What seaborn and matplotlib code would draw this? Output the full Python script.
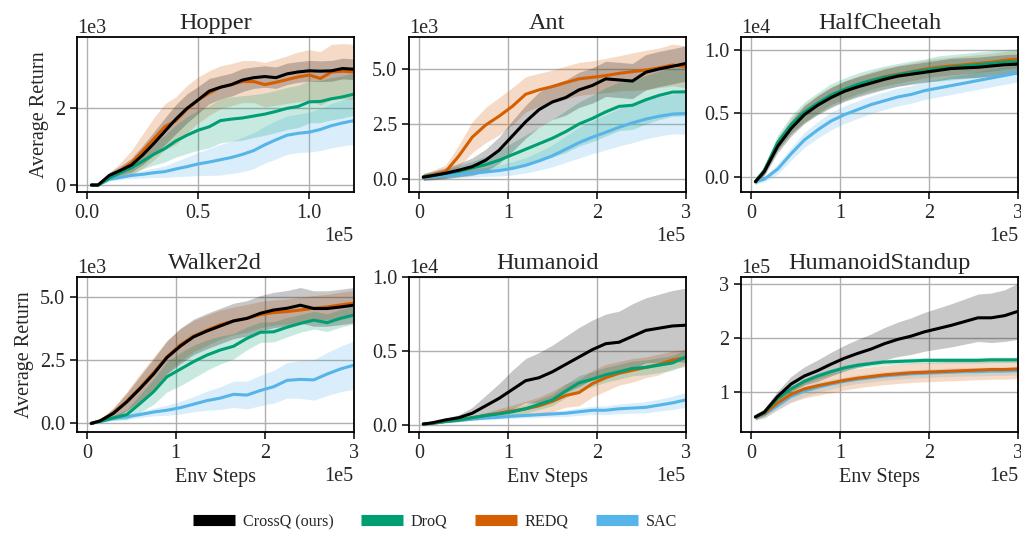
import numpy as np
import pandas as pd
import matplotlib
matplotlib.use("Agg")
import matplotlib.pyplot as plt
from matplotlib.lines import Line2D
from matplotlib.ticker import MultipleLocator
import seaborn as sns

# ---- data, x in env steps ----
STEPS_HOP = np.array([0.02, 0.05, 0.10, 0.15, 0.20, 0.25, 0.30, 0.35, 0.40, 0.45, 0.50, 0.55, 0.60,
                      0.65, 0.70, 0.75, 0.80, 0.85, 0.90, 0.95, 1.00, 1.05, 1.10, 1.15, 1.20]) * 1e5
STEPS_3 = np.array([0.05, 0.15, 0.3, 0.45, 0.6, 0.75, 0.9, 1.05, 1.2, 1.35, 1.5, 1.65, 1.8, 1.95,
                    2.1, 2.25, 2.4, 2.55, 2.7, 2.85, 3.0]) * 1e5

ALGOS = ["CrossQ (ours)", "DroQ", "REDQ", "SAC"]
COLORS = {"CrossQ (ours)": "#000000", "DroQ": "#009E73", "REDQ": "#D55E00", "SAC": "#56B4E9"}
DRAW_ORDER = ["SAC", "REDQ", "DroQ", "CrossQ (ours)"]

# Hopper (x1e3)
hop_crossq = [0.0, 0.0, 0.25, 0.38, 0.52, 0.78, 1.08, 1.40, 1.72, 2.00, 2.22, 2.45, 2.55, 2.62, 2.74, 2.80, 2.83, 2.80, 2.90, 2.95, 2.98, 2.97, 2.98, 3.04, 3.02]
hop_crossq_sd = [0.0, 0.02, 0.08, 0.12, 0.18, 0.25, 0.3, 0.35, 0.38, 0.38, 0.35, 0.33, 0.3, 0.3, 0.3, 0.28, 0.28, 0.28, 0.28, 0.27, 0.27, 0.27, 0.27, 0.27, 0.27]
hop_droq = [0.0, 0.0, 0.18, 0.32, 0.45, 0.62, 0.80, 0.95, 1.15, 1.30, 1.43, 1.52, 1.68, 1.72, 1.75, 1.80, 1.85, 1.92, 2.00, 2.05, 2.17, 2.18, 2.25, 2.30, 2.37]
hop_droq_sd = [0.0, 0.02, 0.06, 0.1, 0.15, 0.2, 0.28, 0.35, 0.42, 0.48, 0.52, 0.55, 0.58, 0.58, 0.58, 0.56, 0.55, 0.55, 0.55, 0.55, 0.55, 0.55, 0.55, 0.55, 0.55]
hop_redq = [0.0, 0.0, 0.22, 0.38, 0.58, 0.88, 1.2, 1.52, 1.68, 1.98, 2.22, 2.40, 2.55, 2.62, 2.70, 2.70, 2.62, 2.68, 2.75, 2.82, 2.87, 2.78, 2.95, 2.97, 2.95]
hop_redq_sd = [0.0, 0.02, 0.1, 0.2, 0.32, 0.45, 0.55, 0.6, 0.62, 0.62, 0.6, 0.58, 0.56, 0.55, 0.55, 0.55, 0.58, 0.6, 0.62, 0.65, 0.66, 0.7, 0.72, 0.72, 0.72]
hop_sac = [0.0, 0.0, 0.15, 0.2, 0.25, 0.28, 0.32, 0.35, 0.42, 0.48, 0.55, 0.6, 0.66, 0.72, 0.8, 0.9, 1.05, 1.18, 1.3, 1.35, 1.38, 1.45, 1.55, 1.62, 1.68]
hop_sac_sd = [0.0, 0.02, 0.04, 0.06, 0.08, 0.1, 0.12, 0.15, 0.2, 0.25, 0.3, 0.35, 0.4, 0.42, 0.45, 0.47, 0.48, 0.5, 0.5, 0.5, 0.52, 0.55, 0.58, 0.6, 0.62]

# Ant (x1e3)
ant_crossq = [0.08, 0.15, 0.26, 0.4, 0.56, 0.85, 1.3, 1.95, 2.6, 3.15, 3.5, 3.7, 4.05, 4.25, 4.55, 4.5, 4.45, 4.85, 5.0, 5.12, 5.25]
ant_crossq_sd = [0.15, 0.2, 0.25, 0.3, 0.4, 0.5, 0.6, 0.7, 0.75, 0.8, 0.8, 0.8, 0.8, 0.8, 0.8, 0.8, 0.8, 0.8, 0.8, 0.8, 0.8]
ant_droq = [0.1, 0.15, 0.25, 0.35, 0.5, 0.65, 0.85, 1.1, 1.35, 1.6, 1.85, 2.15, 2.5, 2.75, 3.05, 3.3, 3.35, 3.6, 3.8, 3.95, 3.96]
ant_droq_sd = [0.15, 0.15, 0.2, 0.25, 0.3, 0.38, 0.45, 0.55, 0.65, 0.75, 0.85, 0.95, 1.0, 1.05, 1.1, 1.1, 1.1, 1.1, 1.1, 1.1, 1.1]
ant_redq = [0.1, 0.18, 0.33, 1.05, 1.9, 2.45, 2.85, 3.3, 3.85, 4.05, 4.2, 4.38, 4.55, 4.62, 4.7, 4.8, 4.88, 4.95, 5.05, 5.18, 5.1]
ant_redq_sd = [0.15, 0.2, 0.3, 0.5, 0.7, 0.8, 0.85, 0.85, 0.8, 0.75, 0.75, 0.75, 0.75, 0.75, 0.78, 0.8, 0.85, 0.9, 0.9, 0.95, 0.95]
ant_sac = [0.05, 0.1, 0.15, 0.2, 0.27, 0.32, 0.38, 0.48, 0.62, 0.82, 1.05, 1.35, 1.65, 1.9, 2.12, 2.35, 2.55, 2.72, 2.85, 2.95, 2.98]
ant_sac_sd = [0.1, 0.1, 0.12, 0.15, 0.18, 0.2, 0.25, 0.3, 0.35, 0.42, 0.5, 0.6, 0.7, 0.75, 0.8, 0.85, 0.9, 0.9, 0.9, 0.9, 0.95]

# HalfCheetah (x1e4)
hc_crossq = [-0.04, 0.04, 0.24, 0.38, 0.49, 0.565, 0.625, 0.675, 0.71, 0.74, 0.77, 0.795, 0.81, 0.825, 0.84, 0.855, 0.86, 0.865, 0.875, 0.885, 0.89]
hc_crossq_sd = [0.02, 0.03, 0.05, 0.06, 0.07, 0.075, 0.08, 0.08, 0.08, 0.08, 0.08, 0.08, 0.08, 0.08, 0.08, 0.08, 0.08, 0.08, 0.08, 0.08, 0.08]
hc_droq = [-0.04, 0.05, 0.27, 0.41, 0.51, 0.58, 0.645, 0.69, 0.73, 0.76, 0.785, 0.805, 0.825, 0.84, 0.855, 0.865, 0.875, 0.885, 0.895, 0.905, 0.91]
hc_droq_sd = [0.02, 0.03, 0.06, 0.07, 0.08, 0.085, 0.09, 0.09, 0.09, 0.09, 0.09, 0.09, 0.09, 0.09, 0.1, 0.1, 0.1, 0.1, 0.1, 0.1, 0.1]
hc_redq = [-0.04, 0.045, 0.26, 0.40, 0.50, 0.575, 0.64, 0.685, 0.725, 0.76, 0.79, 0.81, 0.83, 0.85, 0.865, 0.875, 0.885, 0.895, 0.905, 0.92, 0.93]
hc_redq_sd = [0.02, 0.03, 0.05, 0.06, 0.07, 0.07, 0.07, 0.07, 0.07, 0.07, 0.07, 0.07, 0.07, 0.07, 0.07, 0.07, 0.07, 0.07, 0.07, 0.07, 0.07]
hc_sac = [-0.04, -0.02, 0.06, 0.18, 0.29, 0.37, 0.44, 0.49, 0.53, 0.57, 0.6, 0.63, 0.65, 0.68, 0.7, 0.72, 0.74, 0.76, 0.78, 0.80, 0.82]
hc_sac_sd = [0.02, 0.02, 0.04, 0.05, 0.06, 0.065, 0.07, 0.07, 0.07, 0.07, 0.07, 0.07, 0.07, 0.07, 0.07, 0.07, 0.07, 0.07, 0.07, 0.07, 0.07]

# Walker2d (x1e3)
wk_crossq = [0.0, 0.1, 0.4, 0.85, 1.38, 1.95, 2.6, 3.05, 3.42, 3.65, 3.85, 4.05, 4.15, 4.35, 4.48, 4.55, 4.67, 4.54, 4.54, 4.6, 4.67]
wk_crossq_sd = [0.0, 0.05, 0.2, 0.35, 0.5, 0.6, 0.65, 0.7, 0.7, 0.7, 0.7, 0.7, 0.7, 0.7, 0.7, 0.7, 0.7, 0.7, 0.7, 0.7, 0.7]
wk_droq = [0.0, 0.08, 0.22, 0.35, 0.79, 1.25, 1.84, 2.14, 2.44, 2.7, 2.9, 3.05, 3.36, 3.6, 3.62, 3.8, 3.95, 4.08, 3.98, 4.15, 4.28]
wk_droq_sd = [0.0, 0.05, 0.1, 0.2, 0.35, 0.5, 0.6, 0.65, 0.65, 0.6, 0.55, 0.5, 0.45, 0.4, 0.4, 0.38, 0.35, 0.35, 0.35, 0.35, 0.35]
wk_redq = [0.0, 0.1, 0.42, 0.88, 1.42, 2.0, 2.63, 3.1, 3.45, 3.68, 3.9, 4.05, 4.15, 4.3, 4.38, 4.42, 4.48, 4.55, 4.6, 4.68, 4.75]
wk_redq_sd = [0.0, 0.05, 0.2, 0.38, 0.55, 0.62, 0.65, 0.65, 0.62, 0.6, 0.58, 0.55, 0.55, 0.52, 0.5, 0.5, 0.5, 0.5, 0.5, 0.5, 0.5]
wk_sac = [0.0, 0.08, 0.2, 0.26, 0.35, 0.45, 0.52, 0.62, 0.76, 0.9, 1.0, 1.15, 1.12, 1.3, 1.45, 1.7, 1.74, 1.72, 1.95, 2.15, 2.3]
wk_sac_sd = [0.0, 0.04, 0.08, 0.1, 0.12, 0.15, 0.2, 0.25, 0.3, 0.38, 0.45, 0.52, 0.55, 0.6, 0.65, 0.7, 0.75, 0.8, 0.85, 0.9, 0.95]

# Humanoid (x1e4)
hu_crossq = [0.007, 0.015, 0.035, 0.05, 0.08, 0.13, 0.18, 0.24, 0.3, 0.32, 0.36, 0.41, 0.46, 0.51, 0.55, 0.56, 0.6, 0.64, 0.655, 0.67, 0.675]
hu_crossq_sd = [0.003, 0.005, 0.01, 0.02, 0.04, 0.07, 0.1, 0.13, 0.15, 0.17, 0.18, 0.19, 0.2, 0.2, 0.2, 0.21, 0.22, 0.22, 0.23, 0.24, 0.25]
hu_droq = [0.007, 0.012, 0.025, 0.035, 0.05, 0.065, 0.075, 0.09, 0.11, 0.14, 0.17, 0.23, 0.285, 0.31, 0.34, 0.36, 0.383, 0.39, 0.405, 0.42, 0.46]
hu_droq_sd = [0.003, 0.004, 0.006, 0.008, 0.01, 0.015, 0.02, 0.025, 0.03, 0.035, 0.04, 0.045, 0.05, 0.05, 0.05, 0.05, 0.05, 0.05, 0.05, 0.05, 0.05]
hu_redq = [0.007, 0.012, 0.025, 0.035, 0.05, 0.065, 0.08, 0.095, 0.11, 0.13, 0.16, 0.2, 0.22, 0.28, 0.32, 0.35, 0.37, 0.39, 0.41, 0.44, 0.455]
hu_redq_sd = [0.003, 0.004, 0.006, 0.008, 0.012, 0.02, 0.03, 0.04, 0.05, 0.06, 0.07, 0.08, 0.09, 0.09, 0.09, 0.08, 0.08, 0.07, 0.07, 0.06, 0.06]
hu_sac = [0.007, 0.012, 0.022, 0.03, 0.04, 0.047, 0.053, 0.06, 0.065, 0.07, 0.075, 0.08, 0.09, 0.1, 0.1, 0.11, 0.115, 0.12, 0.135, 0.15, 0.17]
hu_sac_sd = [0.003, 0.004, 0.005, 0.006, 0.008, 0.01, 0.012, 0.014, 0.016, 0.018, 0.02, 0.022, 0.025, 0.027, 0.03, 0.033, 0.035, 0.038, 0.04, 0.045, 0.05]

# HumanoidStandup (x1e5)
hs_crossq = [0.54, 0.63, 0.92, 1.15, 1.3, 1.4, 1.52, 1.63, 1.72, 1.8, 1.9, 1.98, 2.04, 2.12, 2.18, 2.24, 2.31, 2.38, 2.38, 2.42, 2.5]
hs_crossq_sd = [0.05, 0.06, 0.1, 0.14, 0.17, 0.2, 0.22, 0.24, 0.26, 0.28, 0.3, 0.32, 0.34, 0.36, 0.38, 0.4, 0.42, 0.44, 0.46, 0.48, 0.52]
hs_droq = [0.54, 0.62, 0.88, 1.06, 1.2, 1.3, 1.38, 1.45, 1.5, 1.53, 1.56, 1.57, 1.58, 1.59, 1.59, 1.59, 1.59, 1.59, 1.6, 1.6, 1.6]
hs_droq_sd = [0.05] * 21
hs_redq = [0.54, 0.6, 0.8, 0.96, 1.06, 1.12, 1.17, 1.22, 1.26, 1.29, 1.32, 1.34, 1.36, 1.37, 1.38, 1.39, 1.4, 1.41, 1.42, 1.42, 1.43]
hs_redq_sd = [0.06, 0.08, 0.12, 0.15, 0.17, 0.18, 0.18, 0.18, 0.18, 0.18, 0.18, 0.18, 0.18, 0.18, 0.18, 0.18, 0.18, 0.18, 0.18, 0.18, 0.18]
hs_sac = [0.54, 0.58, 0.75, 0.92, 1.02, 1.09, 1.15, 1.2, 1.24, 1.27, 1.3, 1.32, 1.34, 1.35, 1.36, 1.37, 1.38, 1.38, 1.39, 1.39, 1.4]
hs_sac_sd = [0.05, 0.06, 0.08, 0.1, 0.1, 0.1, 0.09, 0.08, 0.08, 0.08, 0.08, 0.08, 0.08, 0.08, 0.08, 0.08, 0.08, 0.08, 0.08, 0.08, 0.08]

# env name -> (steps, scale, {algo: (mean, sd)}, xlim, ylim, xtick step, ytick step)
envs = [
    ("Hopper", STEPS_HOP, 1e3,
     {"CrossQ (ours)": (hop_crossq, hop_crossq_sd), "DroQ": (hop_droq, hop_droq_sd),
      "REDQ": (hop_redq, hop_redq_sd), "SAC": (hop_sac, hop_sac_sd)},
     (-0.045e5, 1.2e5), (-0.18e3, 3.86e3), 0.5e5, 2e3),
    ("Ant", STEPS_3, 1e3,
     {"CrossQ (ours)": (ant_crossq, ant_crossq_sd), "DroQ": (ant_droq, ant_droq_sd),
      "REDQ": (ant_redq, ant_redq_sd), "SAC": (ant_sac, ant_sac_sd)},
     (-0.11e5, 3e5), (-0.59e3, 6.45e3), 1e5, 2.5e3),
    ("HalfCheetah", STEPS_3, 1e4,
     {"CrossQ (ours)": (hc_crossq, hc_crossq_sd), "DroQ": (hc_droq, hc_droq_sd),
      "REDQ": (hc_redq, hc_redq_sd), "SAC": (hc_sac, hc_sac_sd)},
     (-0.11e5, 3e5), (-0.121e4, 1.104e4), 1e5, 0.5e4),
    ("Walker2d", STEPS_3, 1e3,
     {"CrossQ (ours)": (wk_crossq, wk_crossq_sd), "DroQ": (wk_droq, wk_droq_sd),
      "REDQ": (wk_redq, wk_redq_sd), "SAC": (wk_sac, wk_sac_sd)},
     (-0.11e5, 3e5), (-0.34e3, 5.78e3), 1e5, 2.5e3),
    ("Humanoid", STEPS_3, 1e4,
     {"CrossQ (ours)": (hu_crossq, hu_crossq_sd), "DroQ": (hu_droq, hu_droq_sd),
      "REDQ": (hu_redq, hu_redq_sd), "SAC": (hu_sac, hu_sac_sd)},
     (-0.11e5, 3e5), (-0.047e4, 1.0e4), 1e5, 0.5e4),
    ("HumanoidStandup", STEPS_3, 1e5,
     {"CrossQ (ours)": (hs_crossq, hs_crossq_sd), "DroQ": (hs_droq, hs_droq_sd),
      "REDQ": (hs_redq, hs_redq_sd), "SAC": (hs_sac, hs_sac_sd)},
     (-0.11e5, 3e5), (0.26e5, 3.135e5), 1e5, 1e5),
]

sns.set_style("ticks")
plt.rcParams["font.family"] = ["Liberation Serif", "DejaVu Serif"]
plt.rcParams["font.size"] = 14.5
plt.rcParams["axes.edgecolor"] = "black"

fig, axes = plt.subplots(2, 3, figsize=(10.21, 5.37), dpi=100)
fig.subplots_adjust(left=0.0754, right=0.997, top=0.931, bottom=0.1955, wspace=0.2, hspace=0.55)

for i, (ax, (name, steps, scale, series, xlim, ylim, xstep, ystep)) in enumerate(zip(axes.flatten(), envs)):
    rows = []
    for algo in DRAW_ORDER:
        mean, sd = series[algo]
        mean = np.array(mean) * scale
        sd = np.array(sd) * scale
        ax.fill_between(steps, mean - sd, mean + sd, color=COLORS[algo], alpha=0.22, linewidth=0)
        for s, m in zip(steps, mean):
            rows.append({"step": s, "ret": m, "algo": algo})
    df = pd.DataFrame(rows)
    sns.lineplot(data=df, x="step", y="ret", hue="algo", hue_order=DRAW_ORDER, palette=COLORS,
                 linewidth=2.2, legend=False, errorbar=None, ax=ax)
    ax.set_xlim(*xlim)
    ax.set_ylim(*ylim)
    ax.xaxis.set_major_locator(MultipleLocator(xstep))
    ax.yaxis.set_major_locator(MultipleLocator(ystep))
    ax.ticklabel_format(style="sci", axis="both", scilimits=(0, 0))
    ax.grid(True, color="#b0b0b0", linewidth=1.0)
    ax.set_axisbelow(True)
    for sp in ax.spines.values():
        sp.set_color("black")
        sp.set_linewidth(1.3)
    ax.tick_params(axis="both", labelsize=14.5, length=5, width=1.1, color="black")
    ax.xaxis.get_offset_text().set_fontsize(14.5)
    ax.yaxis.get_offset_text().set_fontsize(14.5)
    ax.set_title(name, fontsize=17.5)
    ax.set_xlabel("Env Steps" if i >= 3 else "", fontsize=14.5)
    ax.set_ylabel("Average Return" if i % 3 == 0 else "", fontsize=14.5)

handles = [Line2D([0], [0], color=COLORS[a], linewidth=8, solid_capstyle="butt") for a in ALGOS]
fig.legend(handles, ALGOS, loc="center", bbox_to_anchor=(0.426, 0.028), ncol=4, frameon=False,
           fontsize=11.6, handlelength=2.6, handletextpad=0.5, columnspacing=1.7)

fig.savefig("out.png", dpi=100)
